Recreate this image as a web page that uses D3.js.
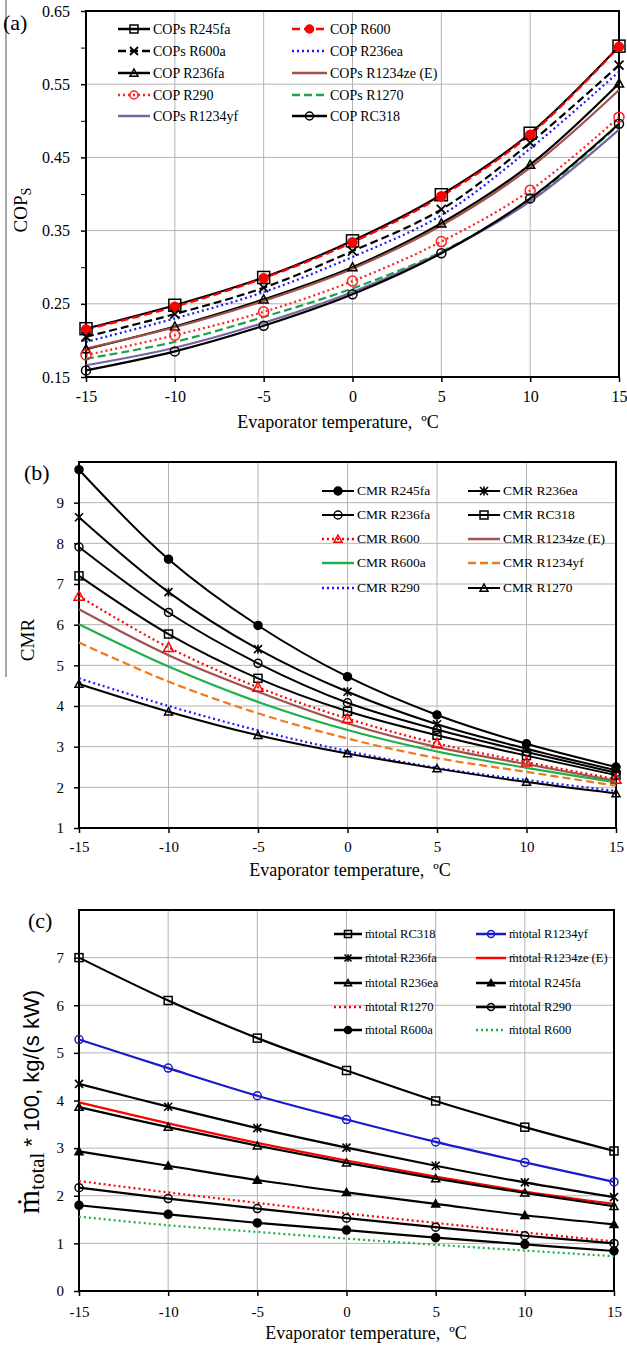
<!DOCTYPE html>
<html>
<head>
<meta charset="utf-8">
<script src="https://cdn.jsdelivr.net/npm/d3@7"></script>
<style>
  body { margin: 0; background: #fff; }
  text { font-family: "Liberation Serif", "Times New Roman", serif; fill: #000; }
</style>
</head>
<body>
<svg id="fig" width="627" height="1345"></svg>
<script>
// evaporator temperature, same for every panel
var temps = [-15, -10, -5, 0, 5, 10, 15];
var xTickLabels = ["-15", "-10", "-5", "0", "5", "10", "15"];

// (a) COPs values
var copR245fa   = [0.216, 0.248, 0.286, 0.336, 0.399, 0.483, 0.602];
var copR600     = [0.215, 0.246, 0.285, 0.334, 0.397, 0.481, 0.601];
var copR600a    = [0.205, 0.236, 0.272, 0.322, 0.379, 0.470, 0.576];
var copR236ea   = [0.198, 0.230, 0.266, 0.314, 0.371, 0.462, 0.567];
var copR236fa   = [0.188, 0.219, 0.256, 0.300, 0.360, 0.440, 0.551];
var copR1234ze  = [0.189, 0.218, 0.254, 0.298, 0.357, 0.436, 0.542];
var copR290     = [0.180, 0.207, 0.239, 0.281, 0.335, 0.405, 0.505];
var copR1270    = [0.175, 0.198, 0.232, 0.271, 0.321, 0.392, 0.495];
var copR1234yf  = [0.166, 0.190, 0.224, 0.266, 0.320, 0.390, 0.488];
var copRC318    = [0.159, 0.185, 0.220, 0.263, 0.319, 0.394, 0.496];

// (b) CMR
var cmrR245fa   = [9.81, 7.61, 5.98, 4.72, 3.78, 3.07, 2.50];
var cmrR236ea   = [8.64, 6.80, 5.40, 4.35, 3.55, 2.95, 2.42];
var cmrR236fa   = [7.91, 6.30, 5.05, 4.08, 3.42, 2.87, 2.36];
var cmrRC318    = [7.20, 5.77, 4.68, 3.87, 3.28, 2.78, 2.30];
var cmrR600     = [6.70, 5.44, 4.46, 3.69, 3.08, 2.62, 2.20];
var cmrR1234ze  = [6.38, 5.25, 4.35, 3.57, 2.99, 2.57, 2.16];
var cmrR600a    = [6.01, 4.97, 4.10, 3.41, 2.88, 2.48, 2.12];
var cmrR1234yf  = [5.56, 4.60, 3.82, 3.20, 2.72, 2.38, 2.04];
var cmrR290     = [4.68, 4.00, 3.40, 2.89, 2.48, 2.18, 1.91];
var cmrR1270    = [4.54, 3.86, 3.28, 2.83, 2.46, 2.13, 1.85];

// (c) total mass flow * 100
var mRC318      = [7.00, 6.10, 5.31, 4.63, 3.99, 3.44, 2.94];
var mR1234yf    = [5.28, 4.68, 4.10, 3.60, 3.13, 2.70, 2.29];
var mR236fa     = [4.35, 3.87, 3.42, 3.01, 2.63, 2.28, 1.97];
var mR1234ze    = [3.96, 3.52, 3.11, 2.74, 2.40, 2.09, 1.83];
var mR236ea     = [3.86, 3.44, 3.05, 2.69, 2.36, 2.06, 1.78];
var mR245fa     = [2.93, 2.63, 2.33, 2.07, 1.83, 1.59, 1.40];
var mR1270      = [2.31, 2.07, 1.85, 1.63, 1.43, 1.23, 1.04];
var mR290       = [2.17, 1.94, 1.73, 1.53, 1.34, 1.16, 1.00];
var mR600a      = [1.80, 1.61, 1.43, 1.28, 1.12, 0.98, 0.84];
var mR600       = [1.56, 1.38, 1.24, 1.10, 0.97, 0.85, 0.73];

var DASH = "8,4", DOT = "2,3";

var svg = d3.select("#fig");

// grey frame line down the left side
svg.append("line").attr("x1", 6).attr("x2", 6).attr("y1", 0).attr("y2", 677)
    .attr("stroke", "#8a8a8a").attr("stroke-width", 1.5);

function marker(g, type, color, size) {
    var s = size / 2;
    if (type === "square") {
        g.append("rect").attr("x", -s).attr("y", -s).attr("width", size).attr("height", size)
            .attr("fill", "none").attr("stroke", color).attr("stroke-width", 1.5);
    } else if (type === "circle" || type === "dot") {
        g.append("circle").attr("r", s)
            .attr("fill", type === "dot" ? color : "none").attr("stroke", color).attr("stroke-width", 1.5);
    } else if (type === "triangle" || type === "tri") {
        g.append("path").attr("d", "M0," + (-s) + "L" + s + "," + (s * 0.8) + "L" + (-s) + "," + (s * 0.8) + "Z")
            .attr("fill", type === "tri" ? color : "none").attr("stroke", color).attr("stroke-width", 1.5);
    } else if (type === "x") {
        g.append("path").attr("d", "M" + (-s) + "," + (-s) + "L" + s + "," + s + "M" + (-s) + "," + s + "L" + s + "," + (-s))
            .attr("stroke", color).attr("stroke-width", 1.8);
    } else if (type === "star") {
        g.append("path").attr("d", "M" + (-s) + "," + (-s) + "L" + s + "," + s + "M" + (-s) + "," + s + "L" + s + "," + (-s) +
            "M0," + (-s * 1.1) + "L0," + (s * 1.1))
            .attr("stroke", color).attr("stroke-width", 1.6);
    }
}

function drawPanel(p) {
    var x = d3.scaleLinear().domain([-15, 15]).range([p.left, p.right]);
    var y = d3.scaleLinear().domain(p.yDomain).range([p.bottom, p.top]);
    var g = svg.append("g");

    // grid
    g.selectAll(".vg").data(temps.slice(1, -1)).enter().append("line")
        .attr("x1", function(d) { return x(d); }).attr("x2", function(d) { return x(d); })
        .attr("y1", p.top).attr("y2", p.bottom).attr("stroke", "#b4b4b4").attr("stroke-width", 1);
    g.selectAll(".hg").data(p.grid).enter().append("line")
        .attr("x1", p.left).attr("x2", p.right)
        .attr("y1", function(d) { return y(d); }).attr("y2", function(d) { return y(d); })
        .attr("stroke", "#b4b4b4").attr("stroke-width", 1);

    // axes
    var xa = g.append("g").attr("transform", "translate(0," + p.bottom + ")")
        .call(d3.axisBottom(x).tickValues(temps).tickFormat(function(d, i) { return xTickLabels[i]; })
            .tickSize(5).tickSizeOuter(0).tickPadding(p.xPad));
    var ya = g.append("g").attr("transform", "translate(" + p.left + ",0)")
        .call(d3.axisLeft(y).tickValues(p.yTicks).tickFormat(p.yFormat)
            .tickSize(5).tickSizeOuter(0).tickPadding(p.yPad));
    if (p.minor) {
        g.append("g").attr("transform", "translate(" + p.left + ",0)")
            .call(d3.axisLeft(y).tickValues(p.minor).tickFormat("").tickSize(5).tickSizeOuter(0))
            .select(".domain").remove();
    }
    [xa, ya].forEach(function(a) {
        a.selectAll("text").style("font-family", "Liberation Serif").style("font-size", p.tickFont + "px");
        a.selectAll("line").attr("stroke-width", 1.5);
        a.select(".domain").remove();
    });

    // frame
    g.append("rect").attr("x", p.left).attr("y", p.top)
        .attr("width", p.right - p.left).attr("height", p.bottom - p.top)
        .attr("fill", "none").attr("stroke", "#000").attr("stroke-width", 2);

    // series
    var line = d3.line().x(function(d, i) { return x(temps[i]); }).y(function(d) { return y(d); })
        .curve(d3.curveCatmullRom.alpha(0.5));
    p.series.forEach(function(s) {
        g.append("path").attr("d", line(s.values)).attr("fill", "none")
            .attr("stroke", s.color).attr("stroke-width", s.width || 2.2)
            .attr("stroke-dasharray", s.dash || null);
    });
    p.series.forEach(function(s) {
        if (!s.marker) return;
        s.values.forEach(function(v, i) {
            marker(g.append("g").attr("transform", "translate(" + x(temps[i]) + "," + y(v) + ")"),
                s.marker, s.color, s.msize || p.msize);
        });
    });

    // legend, two columns filled row by row
    p.series.forEach(function(s, k) {
        var lg = p.legend;
        var col = k % 2, row = Math.floor(k / 2);
        var x0 = lg.cols[col][0], x1 = lg.cols[col][1], ty = lg.rows[row];
        var lgG = g.append("g");
        lgG.append("line").attr("x1", x0).attr("x2", x1).attr("y1", ty).attr("y2", ty)
            .attr("stroke", s.color).attr("stroke-width", s.width || 2.5)
            .attr("stroke-dasharray", s.dash || null);
        if (s.marker) {
            marker(lgG.append("g").attr("transform", "translate(" + ((x0 + x1) / 2) + "," + ty + ")"),
                s.marker, s.color, lg.msize);
        }
        lgG.append("text").attr("x", x1 + 3).attr("y", ty).attr("dy", "0.33em")
            .style("font-size", lg.font + "px").text(s.label);
    });
}

// ---------- (a) ----------
drawPanel({
    left: 86, right: 619, top: 11, bottom: 377,
    yDomain: [0.15, 0.65],
    yTicks: [0.15, 0.25, 0.35, 0.45, 0.55, 0.65],
    minor: [0.2, 0.3, 0.4, 0.5, 0.6],
    grid: [0.25, 0.35, 0.45, 0.55],
    yFormat: d3.format(".2f"),
    xPad: 9, yPad: 11, tickFont: 16, msize: 10,
    series: [
        {label: "COPs R245fa", values: copR245fa, color: "#000", marker: "square", msize: 12},
        {label: "COP R600", values: copR600, color: "#ff0000", dash: DASH, marker: "dot", msize: 9},
        {label: "COPs R600a", values: copR600a, color: "#000", dash: DASH, marker: "x", msize: 9},
        {label: "COP R236ea", values: copR236ea, color: "#1a1aff", dash: DOT},
        {label: "COP R236fa", values: copR236fa, color: "#000", marker: "triangle", msize: 9},
        {label: "COPs R1234ze (E)", values: copR1234ze, color: "#a0524d"},
        {label: "COP R290", values: copR290, color: "#ff2020", dash: DOT, marker: "circle", msize: 10},
        {label: "COPs R1270", values: copR1270, color: "#1aa34a", dash: DASH},
        {label: "COPs R1234yf", values: copR1234yf, color: "#7a64a0"},
        {label: "COP RC318", values: copRC318, color: "#000", marker: "circle", msize: 9}
    ],
    legend: {cols: [[118, 150], [292, 327]], rows: [29, 51, 73, 95, 116], font: 14, msize: 8}
});

// ---------- (b) ----------
drawPanel({
    left: 79, right: 616, top: 462, bottom: 828,
    yDomain: [1, 10],
    yTicks: [1, 2, 3, 4, 5, 6, 7, 8, 9],
    grid: [2, 3, 4, 5, 6, 7, 8, 9],
    yFormat: d3.format("d"),
    xPad: 8, yPad: 10, tickFont: 15, msize: 8,
    series: [
        {label: "CMR R245fa", values: cmrR245fa, color: "#000", marker: "dot", width: 2},
        {label: "CMR R236ea", values: cmrR236ea, color: "#000", marker: "star", width: 2},
        {label: "CMR R236fa", values: cmrR236fa, color: "#000", marker: "circle", width: 2},
        {label: "CMR RC318", values: cmrRC318, color: "#000", marker: "square", width: 2},
        {label: "CMR R600", values: cmrR600, color: "#ff0000", dash: DOT, marker: "triangle", msize: 10},
        {label: "CMR R1234ze (E)", values: cmrR1234ze, color: "#a0524d"},
        {label: "CMR R600a", values: cmrR600a, color: "#1db04c"},
        {label: "CMR R1234yf", values: cmrR1234yf, color: "#f07a1a", dash: DASH},
        {label: "CMR R290", values: cmrR290, color: "#1a1aff", dash: DOT},
        {label: "CMR R1270", values: cmrR1270, color: "#000", marker: "triangle", width: 2}
    ],
    legend: {cols: [[322, 354], [468, 500]], rows: [491, 515, 539, 563, 588], font: 13.5, msize: 8}
});

// ---------- (c) ----------
drawPanel({
    left: 79, right: 614, top: 910, bottom: 1291,
    yDomain: [0, 8],
    yTicks: [0, 1, 2, 3, 4, 5, 6, 7],
    grid: [1, 2, 3, 4, 5, 6, 7],
    yFormat: d3.format("d"),
    xPad: 10, yPad: 10, tickFont: 15, msize: 8,
    series: [
        {label: "ṁtotal RC318", values: mRC318, color: "#000", marker: "square"},
        {label: "ṁtotal R1234yf", values: mR1234yf, color: "#1a1acc", marker: "circle"},
        {label: "ṁtotal R236fa", values: mR236fa, color: "#000", marker: "star"},
        {label: "ṁtotal R1234ze (E)", values: mR1234ze, color: "#ff0000"},
        {label: "ṁtotal R236ea", values: mR236ea, color: "#000", marker: "triangle"},
        {label: "ṁtotal R245fa", values: mR245fa, color: "#000", marker: "tri"},
        {label: "ṁtotal R1270", values: mR1270, color: "#ff0000", dash: DOT},
        {label: "ṁtotal R290", values: mR290, color: "#000", marker: "circle"},
        {label: "ṁtotal R600a", values: mR600a, color: "#000", marker: "dot"},
        {label: "ṁtotal R600", values: mR600, color: "#1db04c", dash: DOT}
    ],
    legend: {cols: [[334, 362], [476, 506]], rows: [934, 958, 983, 1007, 1030], font: 12.5, msize: 7}
});

// ---------- titles and panel letters ----------
function xTitle(cx, cy) {
    svg.append("text").attr("x", cx).attr("y", cy).attr("dy", "0.35em").attr("text-anchor", "middle")
        .style("font-size", "18px").style("white-space", "pre")
        .text("Evaporator temperature,\u00a0 \u00baC");
}
xTitle(338, 422);
xTitle(350, 870);
xTitle(366, 1333);

svg.append("text").attr("x", 3).attr("y", 30).style("font-size", "22px").text("(a)");
svg.append("text").attr("x", 24).attr("y", 480).style("font-size", "22px").text("(b)");
svg.append("text").attr("x", 28).attr("y", 928).style("font-size", "22px").text("(c)");

var copT = svg.append("text").attr("transform", "translate(27,210) rotate(-90)")
    .attr("text-anchor", "middle").style("font-size", "19px");
copT.append("tspan").text("COP");
copT.append("tspan").attr("dy", 4).style("font-size", "14px").text("S");

svg.append("text").attr("transform", "translate(34,640) rotate(-90)")
    .attr("text-anchor", "middle").style("font-size", "19px").text("CMR");

var mT = svg.append("text").attr("transform", "translate(39,1102) rotate(-90)")
    .attr("text-anchor", "middle");
mT.append("tspan").style("font-size", "31px").text("ṁ");
mT.append("tspan").attr("dy", 5).style("font-size", "21px").text("total");
mT.append("tspan").attr("dy", -5).style("font-size", "22px").style("font-family", "Liberation Sans")
    .text(" * 100, kg/(s kW)");
</script>
</body>
</html>
